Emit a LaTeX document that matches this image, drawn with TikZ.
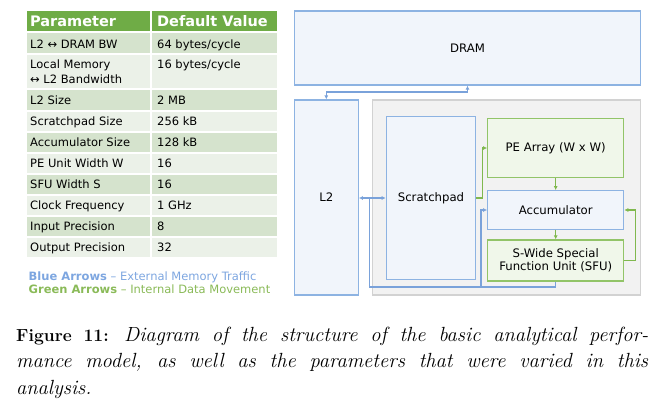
\documentclass[tikz,border=0pt]{standalone}
\usepackage{fontspec}
\newfontfamily\verd{DejaVu Sans}
\usetikzlibrary{arrows.meta,positioning}
\definecolor{tabhead}{RGB}{111,172,70}
\definecolor{tabdark}{RGB}{213,227,205}
\definecolor{tablight}{RGB}{235,241,232}
\definecolor{memblue}{RGB}{141,179,226}
\definecolor{memfill}{RGB}{241,245,251}
\definecolor{pegreen}{RGB}{146,196,104}
\definecolor{pefill}{RGB}{240,247,234}
\definecolor{coregray}{RGB}{210,210,210}
\definecolor{corefill}{RGB}{242,242,242}
\definecolor{extblue}{RGB}{122,162,218}
\definecolor{intgreen}{RGB}{128,184,78}
\definecolor{legblue}{RGB}{125,166,224}
\definecolor{leggreen}{RGB}{138,186,88}
\tikzset{
  cell/.style={anchor=base west,inner sep=0pt,font=\verd\fontsize{11.5}{14}\selectfont},
  headcell/.style={cell,text=white,font=\verd\bfseries\fontsize{14.5}{17}\selectfont},
  legend/.style={cell},
  mem/.style={draw=memblue,fill=memfill,line width=1.2pt,inner sep=0pt,align=center,font=\verd\fontsize{11.7}{13.5}\selectfont},
  unit/.style={mem,draw=pegreen,fill=pefill},
  core/.style={draw=coregray,fill=corefill,line width=1.2pt,inner sep=0pt},
  ext/.style={draw=extblue,line width=1.3pt,-{Latex[length=4pt,width=4pt]}},
  both/.style={{Latex[length=4pt,width=4pt]}-{Latex[length=4pt,width=4pt]}},
  int/.style={ext,draw=intgreen},
  captext/.style={anchor=base west,inner sep=0pt,font=\fontsize{17.5}{20}\selectfont},
}

\begin{document}
\begin{tikzpicture}[x=1pt,y=-1pt]
  \useasboundingbox (0,0) rectangle (662,405);
  % parameter table
  \foreach \top/\bot/\shade in {10/32/tabhead,32/54/tabdark,54/89/tablight,89/111/tabdark,111/132/tablight,132/153/tabdark,153/174/tablight,174/195/tabdark,195/216/tablight,216/237/tabdark,237/258/tablight}
    \filldraw[fill=\shade,draw=white,line width=1.5pt] (26,\top) rectangle (151,\bot) (151,\top) rectangle (278,\bot);
  \node[headcell] (hpar) at (30,26.7) {Parameter};
  \node[headcell] (hval) at (157,26.7) {Default Value};
  \node[cell] (par1) at (30,48) {L2 ↔ DRAM BW};
  \node[cell] (val1) at (157,48) {64 bytes/cycle};
  \node[cell] (par2) at (30,68.3) {Local Memory};
  \node[cell] (par2b) at (30,83.3) {↔ L2 Bandwidth};
  \node[cell] (val2) at (157,68.3) {16 bytes/cycle};
  \foreach \base/\pname/\pval [count=\i from 3] in {104.3/L2 Size/2 MB,125.7/Scratchpad Size/256 kB,146.7/Accumulator Size/128 kB,167.7/PE Unit Width W/16,188.7/SFU Width S/16,209.7/Clock Frequency/1 GHz,230.7/Input Precision/8,251.7/Output Precision/32}{
    \node[cell] (par\i) at (30,\base) {\pname};
    \node[cell] (val\i) at (157,\base) {\pval};
  }
  % legend
  \node[legend,text=legblue] (legext) at (28.5,280) {\textbf{Blue Arrows} – External Memory Traffic};
  \node[legend,text=leggreen] (legint) at (28.5,293.5) {\textbf{Green Arrows} – Internal Data Movement};

  % block diagram
  \node[core,minimum width=268pt,minimum height=195pt] (core) at (506.7,197.5) {};
  \node[mem,minimum width=89.4pt,minimum height=162.6pt] (scratch) at (431,198) {Scratchpad};
  \node[unit,minimum width=136pt,minimum height=59.4pt] (pe) at (555.7,148) {PE Array (W x W)};
  \node[mem,minimum width=136pt,minimum height=38.6pt] (acc) at (555.7,210) {Accumulator};
  \node[unit,minimum width=136pt,minimum height=41pt] (sfu) at (555.7,260.5) {S-Wide Special\\Function Unit (SFU)};
  \node[mem,minimum width=64pt,minimum height=195pt] (l2) at (326.3,197.5) {L2};
  \node[mem,minimum width=346.4pt,minimum height=74pt] (dram) at (467.5,48) {DRAM};
  \coordinate (tap) at (369.5,198);
  \coordinate (bend) at (481,287);

  \draw[ext,both] (l2.north) -- ++(0,-7.5) -| (dram.south);
  \draw[ext,both] (l2.east |- scratch.west) -- (scratch.west);
  \draw[ext,-] (sfu.south) |- (bend) -| (tap);
  \draw[ext] (bend) |- (acc.west);
  \draw[int] (scratch.east) -- ++(6,0) |- (pe.west);
  \draw[int] (pe.south) -- (acc.north);
  \draw[int] (acc.south) -- (sfu.north);
  \draw[int] (sfu.east) -- ++(11.3,0) |- (acc.east);

  % caption
  \node[captext] (cap1) at (16,341) {\makebox[632pt][s]{\textbf{Figure 11:} {\fontsize{20.5}{24}\selectfont\itshape Diagram of the structure of the basic analytical perfor-}}};
  \node[captext] (cap2) at (16,367.5) {\makebox[632pt][s]{\fontsize{20.5}{24}\selectfont\itshape mance model, as well as the parameters that were varied in this}};
  \node[captext] (cap3) at (16,394) {\fontsize{20.5}{24}\selectfont\itshape analysis.};
\end{tikzpicture}
\end{document}
